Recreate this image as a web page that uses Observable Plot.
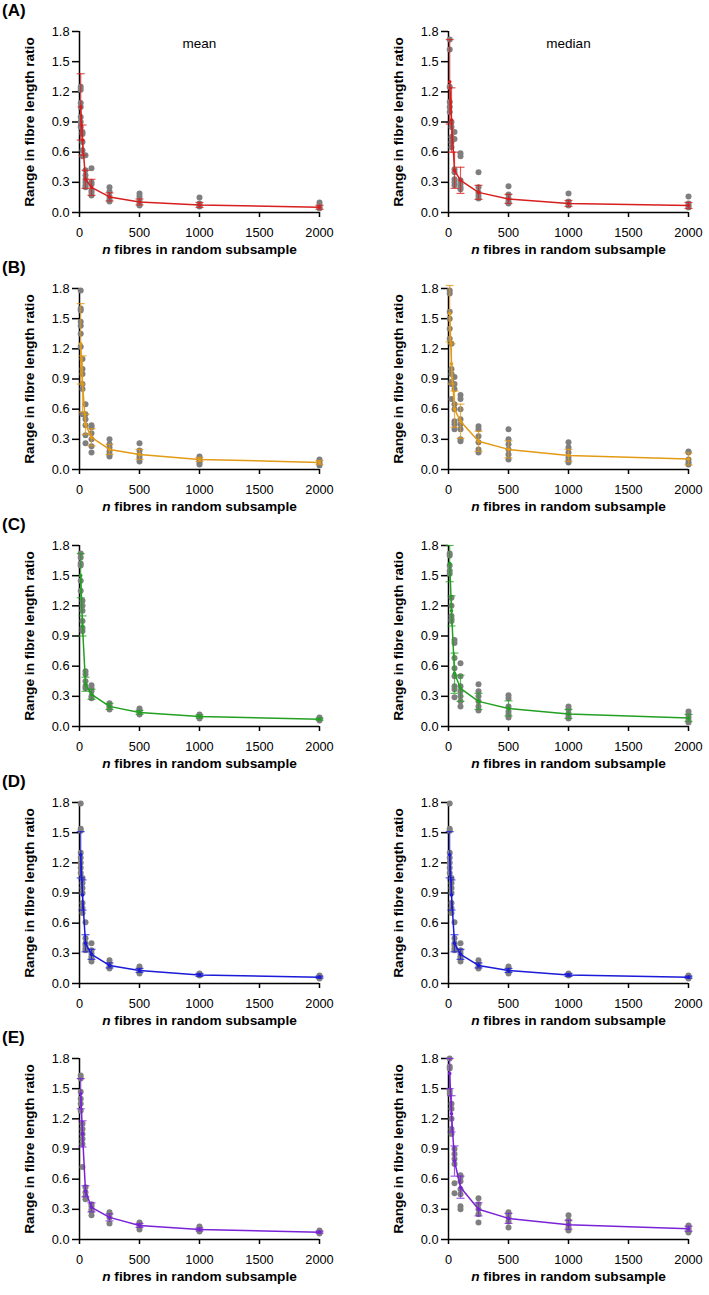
<!DOCTYPE html>
<html><head><meta charset="utf-8">
<script src="https://cdn.jsdelivr.net/npm/d3@7"></script>
<script src="https://cdn.jsdelivr.net/npm/@observablehq/plot@0.6"></script>
<style>
body{margin:0;background:#fff;font-family:"Liberation Sans",Arial,sans-serif;}
#wrap{position:relative;width:709px;height:1295px;overflow:hidden;}
.panel{position:absolute;}
.tag{position:absolute;left:2px;font-weight:bold;font-size:17px;line-height:20px;color:#000;}
</style></head><body><div id="wrap"></div>
<script>
// ---- data ----
const nValues = [10, 25, 50, 100, 250, 500, 1000, 2000];
const xTicks = [0, 500, 1000, 1500, 2000];
const yTicks = [0, 0.3, 0.6, 0.9, 1.2, 1.5, 1.8];
const rowLetters = ["(A)", "(B)", "(C)", "(D)", "(E)"];
const colTitles = ["mean", "median"];
const rowColors = ["#d81e1e", "#e39a14", "#22a022", "#1a1ad8", "#7a22d8"];
const xLabel = "n fibres in random subsample";
const yLabel = "Range in fibre length ratio";

const meanA1 = [1.05, 0.72, 0.33, 0.25, 0.155, 0.105, 0.075, 0.052];
const errA1  = [0.33, 0.15, 0.09, 0.08, 0.04, 0.03, 0.025, 0.02];
const dotsA1 = [[1.25,1.22,1.09,1.05,0.95,0.9,0.85],[0.8,0.78,0.7,0.62,0.56],[0.57,0.42,0.37,0.33,0.3,0.27,0.25],[0.44,0.3,0.28,0.22,0.2,0.17],[0.25,0.21,0.16,0.13,0.11],[0.19,0.16,0.12,0.09,0.07],[0.15,0.09,0.07,0.06],[0.1,0.07,0.05,0.04]];

const meanA2 = [1.3, 0.92, 0.42, 0.32, 0.2, 0.135, 0.09, 0.07];
const errA2  = [0.42, 0.32, 0.18, 0.13, 0.07, 0.045, 0.03, 0.03];
const dotsA2 = [[1.72,1.62,1.25,1.1,1.05,1.0],[0.9,0.85,0.75,0.7,0.65],[0.8,0.73,0.43,0.4,0.33,0.3,0.27],[0.59,0.56,0.32,0.28,0.25,0.23],[0.4,0.25,0.2,0.17,0.14],[0.26,0.18,0.14,0.11,0.09],[0.19,0.11,0.09,0.07],[0.16,0.09,0.07,0.05]];

const meanB1 = [1.25, 0.85, 0.45, 0.32, 0.2, 0.15, 0.1, 0.07];
const errB1  = [0.4, 0.28, 0.1, 0.085, 0.05, 0.05, 0.02, 0.02];
const dotsB1 = [[1.78,1.6,1.58,1.47,1.43,1.35,1.22],[1.1,1.0,0.95,0.85,0.8,0.55],[0.65,0.55,0.5,0.44,0.34,0.26],[0.44,0.42,0.36,0.3,0.23,0.17],[0.3,0.25,0.22,0.18,0.15,0.13],[0.26,0.19,0.15,0.12,0.08],[0.13,0.11,0.09,0.07,0.05],[0.1,0.08,0.06,0.04]];

const meanB2 = [1.55, 1.05, 0.6, 0.48, 0.28, 0.2, 0.14, 0.105];
const errB2  = [0.28, 0.2, 0.18, 0.17, 0.1, 0.085, 0.06, 0.06];
const dotsB2 = [[1.78,1.75,1.57,1.5,1.4,1.3],[1.25,1.0,0.95,0.87,0.85,0.7],[0.92,0.85,0.8,0.65,0.6,0.48,0.45,0.4],[0.74,0.7,0.6,0.5,0.45,0.4,0.3,0.28],[0.43,0.4,0.33,0.27,0.2,0.17],[0.4,0.3,0.25,0.2,0.15,0.1],[0.27,0.22,0.17,0.12,0.09,0.07],[0.18,0.17,0.1,0.07,0.05]];

const meanC1 = [1.5, 1.0, 0.42, 0.32, 0.2, 0.14, 0.1, 0.073];
const errC1  = [0.22, 0.1, 0.07, 0.05, 0.03, 0.02, 0.015, 0.01];
const dotsC1 = [[1.72,1.68,1.62,1.6,1.45,1.35],[1.25,1.2,1.15,1.05,0.98,0.95],[0.55,0.52,0.45,0.4,0.38],[0.41,0.38,0.35,0.3,0.28],[0.23,0.21,0.19,0.17],[0.18,0.16,0.14,0.12],[0.12,0.11,0.09,0.08],[0.09,0.08,0.07,0.06]];

const meanC2 = [1.62, 1.15, 0.53, 0.38, 0.25, 0.18, 0.125, 0.085];
const errC2  = [0.18, 0.15, 0.2, 0.13, 0.08, 0.075, 0.045, 0.035];
const dotsC2 = [[1.72,1.7,1.6,1.55,1.52],[1.28,1.2,1.1,1.07,1.05],[0.86,0.83,0.68,0.58,0.5,0.4,0.37,0.29],[0.63,0.5,0.4,0.35,0.3,0.25,0.2],[0.42,0.35,0.3,0.25,0.2,0.16],[0.31,0.28,0.2,0.15,0.12,0.09],[0.2,0.17,0.13,0.1,0.08],[0.15,0.12,0.09,0.06,0.04]];

const meanD1 = [1.28, 0.88, 0.4, 0.29, 0.18, 0.13, 0.085, 0.063];
const errD1  = [0.23, 0.15, 0.085, 0.05, 0.025, 0.02, 0.015, 0.01];
const dotsD1 = [[1.79,1.54,1.52,1.3,1.25,1.2,1.15,1.1],[1.05,1.0,0.95,0.9,0.8,0.75,0.7],[0.61,0.45,0.4,0.38,0.35,0.33],[0.4,0.33,0.3,0.27,0.25,0.22],[0.23,0.2,0.17,0.15],[0.17,0.15,0.12,0.1],[0.1,0.09,0.08],[0.08,0.07,0.06,0.05]];

const meanD2 = [1.28, 0.88, 0.4, 0.29, 0.18, 0.13, 0.085, 0.063];
const errD2  = [0.23, 0.15, 0.085, 0.05, 0.025, 0.02, 0.015, 0.01];
const dotsD2 = [[1.79,1.54,1.52,1.3,1.25,1.2,1.15,1.1],[1.05,1.0,0.95,0.9,0.8,0.75,0.7],[0.61,0.45,0.4,0.38,0.35,0.33],[0.4,0.33,0.3,0.27,0.25,0.22],[0.23,0.2,0.17,0.15],[0.17,0.15,0.12,0.1],[0.1,0.09,0.08],[0.08,0.07,0.06,0.05]];

const meanE1 = [1.45, 1.05, 0.48, 0.32, 0.22, 0.14, 0.1, 0.073];
const errE1  = [0.15, 0.13, 0.055, 0.045, 0.035, 0.02, 0.015, 0.01];
const dotsE1 = [[1.63,1.6,1.47,1.4,1.35,1.28],[1.15,1.1,1.05,1.0,0.95,0.72],[0.52,0.47,0.43,0.4],[0.35,0.33,0.3,0.28,0.24],[0.27,0.25,0.22,0.16],[0.17,0.15,0.13,0.1],[0.13,0.11,0.09,0.08],[0.09,0.08,0.07,0.06]];

const meanE2 = [1.65, 1.25, 0.78, 0.52, 0.3, 0.21, 0.147, 0.107];
const errE2  = [0.15, 0.18, 0.15, 0.11, 0.065, 0.05, 0.045, 0.025];
const dotsE2 = [[1.8,1.72,1.7,1.48,1.45],[1.35,1.3,1.2,1.1,1.05],[0.9,0.85,0.8,0.75,0.56,0.46],[0.64,0.62,0.58,0.5,0.45,0.33,0.3],[0.41,0.35,0.3,0.25,0.17],[0.27,0.25,0.22,0.18,0.12],[0.24,0.19,0.15,0.12,0.09],[0.14,0.12,0.1,0.08,0.07]];

const panelData = [
  [[meanA1, errA1, dotsA1], [meanA2, errA2, dotsA2]],
  [[meanB1, errB1, dotsB1], [meanB2, errB2, dotsB2]],
  [[meanC1, errC1, dotsC1], [meanC2, errC2, dotsC2]],
  [[meanD1, errD1, dotsD1], [meanD2, errD2, dotsD2]],
  [[meanE1, errE1, dotsE1], [meanE2, errE2, dotsE2]]
];

// ---- layout ----
const rowTops = [0, 257, 514, 771, 1027];
const colLefts = [0, 355];
const colMargins = [{left: 79, right: 35}, {left: 93, right: 21}];
const FONT = "'Liberation Sans', Arial, Helvetica, sans-serif";
const TICK_FS = 12.8;

const capSymbol = {draw(ctx) { ctx.moveTo(-4, 0); ctx.lineTo(4, 0); }};

const wrap = document.getElementById("wrap");

panelData.forEach((row, ri) => {
  const tag = document.createElement("div");
  tag.className = "tag";
  tag.style.top = (rowTops[ri] + 1) + "px";
  tag.textContent = rowLetters[ri];
  wrap.appendChild(tag);

  row.forEach(([means, errs, dots], ci) => {
    const color = rowColors[ri];
    const summary = nValues.map((n, i) => ({n, m: means[i], lo: means[i] - errs[i], hi: means[i] + errs[i]}));
    const pts = nValues.flatMap((n, i) => dots[i].map(v => ({n, v})));
    const marks = [
      Plot.ruleY([0], {stroke: "#000", strokeWidth: 1.5}),
      Plot.ruleX([0], {stroke: "#000", strokeWidth: 1.5}),
      Plot.axisY({ticks: yTicks, tickFormat: d3.format(".1f"), tickSize: 7, tickPadding: 3, label: null, strokeWidth: 1.5, fontSize: TICK_FS, fill: "#000"}),
      Plot.axisX({ticks: xTicks, tickFormat: d3.format("d"), tickSize: 5, tickPadding: 10, label: null, strokeWidth: 1.5, fontSize: TICK_FS, fill: "#000"}),
      Plot.dot(pts, {x: "n", y: "v", r: 3, fill: "#7f7f7f", stroke: "none"}),
      Plot.line(summary, {x: "n", y: "m", stroke: color, strokeWidth: 1.5}),
      Plot.ruleX(summary, {x: "n", y1: "lo", y2: "hi", stroke: color, strokeWidth: 1.2, strokeOpacity: 0.75}),
      Plot.dot(summary, {x: "n", y: "hi", symbol: capSymbol, stroke: color, fill: "none", strokeWidth: 1.2, strokeOpacity: 0.75}),
      Plot.dot(summary, {x: "n", y: "lo", symbol: capSymbol, stroke: color, fill: "none", strokeWidth: 1.2, strokeOpacity: 0.75}),
      Plot.dot(summary, {x: "n", y: "m", r: 1.8, fill: color, stroke: "none"}),
      Plot.text([yLabel], {frameAnchor: "left", dx: -50, rotate: -90, textAnchor: "middle", lineAnchor: "middle", fontWeight: "bold", fontSize: 13.7, fill: "#000"}),
      Plot.text([xLabel], {frameAnchor: "bottom", dy: 41, textAnchor: "middle", fontWeight: "bold", fontSize: 13.7, fill: "#000"})
    ];
    if (ri === 0) marks.push(Plot.text([colTitles[ci]], {frameAnchor: "top", dy: 7, fontSize: 13.5, fill: "#000"}));

    const svg = Plot.plot({
      width: 354,
      height: 257,
      marginTop: 31,
      marginBottom: 45,
      marginLeft: colMargins[ci].left,
      marginRight: colMargins[ci].right,
      style: `font-family: ${FONT}; font-size: ${TICK_FS}px; color: #000; background: transparent; overflow: visible;`,
      x: {domain: [0, 2000]},
      y: {domain: [0, 1.8]},
      marks
    });
    // italic "n" in the x label
    svg.querySelectorAll("text").forEach(t => {
      if (t.textContent === xLabel) {
        t.textContent = "";
        const a = document.createElementNS("http://www.w3.org/2000/svg", "tspan");
        a.setAttribute("font-style", "italic");
        a.textContent = "n";
        const b = document.createElementNS("http://www.w3.org/2000/svg", "tspan");
        b.textContent = xLabel.slice(1);
        t.appendChild(a); t.appendChild(b);
      }
    });
    svg.classList.add("panel");
    svg.style.left = colLefts[ci] + "px";
    svg.style.top = rowTops[ri] + "px";
    svg.style.position = "absolute";
    wrap.appendChild(svg);
  });
});
</script>
</body></html>
